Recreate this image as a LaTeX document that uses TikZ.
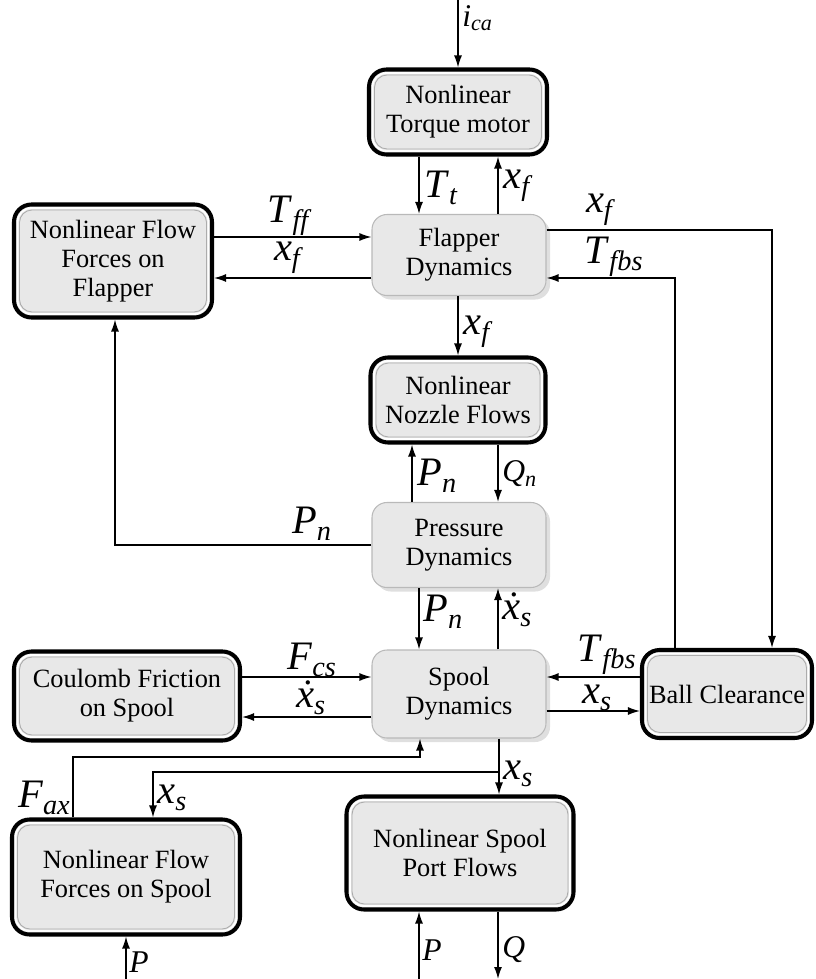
\documentclass[tikz,border=0pt]{standalone}
\usepackage{fontspec}
\setmainfont{Liberation Serif}
\usetikzlibrary{arrows.meta,shadows}

\newcommand{\sig}[2]{\textit{#1}\textsubscript{\textit{#2}}}
\newcommand{\sigdot}[2]{\textit{\.{#1}}\textsubscript{\textit{#2}}}

\begin{document}
\begin{tikzpicture}[x=0.2mm, y=-0.2mm,
  font=\fontsize{15}{16.5}\selectfont,
  block/.style={rounded corners=3mm, fill=gray!18, draw=gray!55, line width=0.6pt,
    align=center, inner sep=0pt, drop shadow={opacity=0.25}},
  hardblock/.style={rounded corners=3.5mm, fill=gray!18, draw=black, line width=2.3pt,
    align=center, inner sep=0pt,
    path picture={
      \draw[white, line width=1pt, rounded corners=2.8mm]
        ([shift={(0.7mm,0.7mm)}]path picture bounding box.south west) rectangle
        ([shift={(-0.7mm,-0.7mm)}]path picture bounding box.north east);
      \draw[gray!65, line width=0.5pt, rounded corners=2.5mm]
        ([shift={(1.1mm,1.1mm)}]path picture bounding box.south west) rectangle
        ([shift={(-1.1mm,-1.1mm)}]path picture bounding box.north east);}},
  arr/.style={-{Latex[length=2.4mm,width=1.6mm]}, line width=0.8pt},
  lbl/.style={font=\fontsize{23}{25}\selectfont, inner sep=0pt},
  slbl/.style={font=\fontsize{18}{20}\selectfont, inner sep=0pt}]

\useasboundingbox (0,0) rectangle (815,979);

% blocks
\node[hardblock, minimum width=35.6mm, minimum height=17mm] (torque) at (458,112) {Nonlinear\\Torque motor};
\node[block, minimum width=34.8mm, minimum height=16.2mm] (flapper) at (459,255) {Flapper\\Dynamics};
\node[hardblock, minimum width=39.6mm, minimum height=22.6mm] (flowflap) at (113,261) {Nonlinear Flow\\Forces on\\Flapper};
\node[hardblock, minimum width=35mm, minimum height=17mm] (nozzle) at (458,400) {Nonlinear\\Nozzle Flows};
\node[block, minimum width=34.8mm, minimum height=17mm] (pressure) at (459,545) {Pressure\\Dynamics};
\node[hardblock, minimum width=45.2mm, minimum height=17.8mm] (coulomb) at (127,696) {Coulomb Friction\\on Spool};
\node[block, minimum width=34.8mm, minimum height=17.6mm] (spool) at (459,694) {Spool\\Dynamics};
\node[hardblock, minimum width=34mm, minimum height=17.6mm] (ball) at (727,694) {Ball Clearance};
\node[hardblock, minimum width=45.6mm, minimum height=23mm] (flowspool) at (126,877) {Nonlinear Flow\\Forces on Spool};
\node[hardblock, minimum width=45.4mm, minimum height=22.6mm] (port) at (460,853) {Nonlinear Spool\\Port Flows};

% free ends
\coordinate (ica) at (458,0);
\coordinate (pin1) at (126,979);
\coordinate (pin2) at (419,979);
\coordinate (qout) at (498,979);
\coordinate (xsbranch) at (499,772);

% connectors
\draw[arr] (ica) -- (torque.north);
\draw[arr] (torque.south -| 419,0) -- (flapper.north -| 419,0);
\draw[arr] (flapper.north -| 498,0) -- (torque.south -| 498,0);
\draw[arr] (flowflap.east |- 0,237) -- (flapper.west |- 0,237);
\draw[arr] (flapper.west |- 0,278) -- (flowflap.east |- 0,278);
\draw[arr] (flapper.east |- 0,230) -| (ball.north -| 772,0);
\draw[arr] (ball.north -| 675,0) |- (flapper.east |- 0,278);
\draw[arr] (flapper.south -| 458,0) -- (nozzle.north -| 458,0);
\draw[arr] (pressure.north -| 412,0) -- (nozzle.south -| 412,0);
\draw[arr] (nozzle.south -| 498,0) -- (pressure.north -| 498,0);
\draw[arr] (pressure.west) -| (flowflap.south -| 115,0);
\draw[arr] (pressure.south -| 419,0) -- (spool.north -| 419,0);
\draw[arr] (spool.north -| 498,0) -- (pressure.south -| 498,0);
\draw[arr] (coulomb.east |- 0,677) -- (spool.west |- 0,677);
\draw[arr] (spool.west |- 0,717) -- (coulomb.east |- 0,717);
\draw[arr] (ball.west |- 0,677) -- (spool.east |- 0,677);
\draw[arr] (spool.east |- 0,711) -- (ball.west |- 0,711);
\draw[arr] (flowspool.north -| 73,0) -- (73,757) -- (420,757) -- (spool.south -| 420,0);
\draw[arr] (spool.south -| 499,0) -- (port.north -| 499,0);
\draw[arr] (xsbranch) -| (flowspool.north -| 153,0);
\draw[arr] (pin1) -- (flowspool.south);
\draw[arr] (pin2) -- (port.south -| 419,0);
\draw[arr] (port.south -| 498,0) -- (qout);

% signal labels
\node[slbl, anchor=west] (lica) at (462,18) {\sig{i}{ca}};
\node[lbl, anchor=west] (ltt) at (424,188) {\sig{T}{t}};
\node[lbl, anchor=west] (lxf1) at (503,186) {\sig{x}{f}};
\node[lbl] (ltff) at (290,216) {\sig{T}{ff}};
\node[lbl] (lxf2) at (289,258) {\sig{x}{f}};
\node[lbl] (lxf3) at (601,210) {\sig{x}{f}};
\node[lbl] (ltfbs1) at (614,257) {\sig{T}{fbs}};
\node[lbl, anchor=west] (lxf4) at (463,332) {\sig{x}{f}};
\node[lbl, anchor=west] (lpn1) at (417,476) {\sig{P}{n}};
\node[slbl, anchor=west] (lqn) at (502,474) {\sig{Q}{n}};
\node[lbl] (lpn2) at (312,524) {\sig{P}{n}};
\node[lbl, anchor=west] (lpn3) at (423,612) {\sig{P}{n}};
\node[lbl, anchor=west] (lxsd1) at (502,610) {\sigdot{x}{s}};
\node[lbl] (lfcs) at (312,660) {\sig{F}{cs}};
\node[lbl] (lxsd2) at (311,698) {\sigdot{x}{s}};
\node[lbl] (ltfbs2) at (607,655) {\sig{T}{fbs}};
\node[lbl] (lxs1) at (597,698) {\sig{x}{s}};
\node[lbl, anchor=east] (lfax) at (71,798) {\sig{F}{ax}};
\node[lbl, anchor=west] (lxs2) at (157,798) {\sig{x}{s}};
\node[lbl, anchor=west] (lxs3) at (503,774) {\sig{x}{s}};
\node[slbl, anchor=west] (lp1) at (129,962) {\textit{P}};
\node[slbl, anchor=west] (lp2) at (422,950) {\textit{P}};
\node[slbl, anchor=west] (lq) at (502,950) {\textit{Q}};
\end{tikzpicture}
\end{document}
